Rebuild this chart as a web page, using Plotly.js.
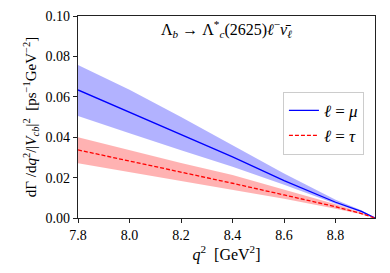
<!DOCTYPE html>
<html><head><meta charset="utf-8">
<script src="https://cdn.plot.ly/plotly-3.0.1.min.js"></script>
<style>html,body{margin:0;padding:0;background:#fff}#c{width:390px;height:273px}</style>
</head><body><div id="c"></div>
<script>
const q2 = [7.8, 8.0, 8.2, 8.4, 8.6, 8.8, 8.9, 8.953];
const muCentral = [0.0634, 0.0525, 0.0415, 0.0303, 0.0185, 0.0078, 0.0033, 0.0];
const muUpper   = [0.0757, 0.0635, 0.0500, 0.0361, 0.0220, 0.0090, 0.0038, 0.0];
const muLower   = [0.0505, 0.0420, 0.0335, 0.0254, 0.0165, 0.0070, 0.0029, 0.0];
const tauCentral = [0.0337, 0.0283, 0.0228, 0.0172, 0.0114, 0.0056, 0.0022, 0.0];
const tauUpper   = [0.0400, 0.0335, 0.0272, 0.0213, 0.0139, 0.0068, 0.0027, 0.0];
const tauLower   = [0.0271, 0.0228, 0.0185, 0.0139, 0.0095, 0.0046, 0.0018, 0.0];
const xTicks = [7.8, 8.0, 8.2, 8.4, 8.6, 8.8];
const yTicks = [0.00, 0.02, 0.04, 0.06, 0.08, 0.10];

const serif = 'Liberation Serif, DejaVu Serif, serif';
function band(up, lo, color) {
  return {
    x: q2.concat(q2.slice().reverse()),
    y: up.concat(lo.slice().reverse()),
    type: 'scatter', mode: 'lines', fill: 'toself',
    fillcolor: color, line: {width: 0}, showlegend: false, hoverinfo: 'skip'
  };
}
const data = [
  band(muUpper, muLower, 'rgba(0,0,255,0.3)'),
  band(tauUpper, tauLower, 'rgba(255,0,0,0.3)'),
  {x: q2, y: muCentral, type: 'scatter', mode: 'lines', name: '<i>ℓ</i> = <i>μ</i>',
   line: {color: '#0000ff', width: 1.3}},
  {x: q2, y: tauCentral, type: 'scatter', mode: 'lines', name: '<i>ℓ</i> = <i>τ</i>',
   line: {color: '#ff0000', width: 1.3, dash: '4px,2px'}}
];
const layout = {
  width: 390, height: 273,
  margin: {l: 78, r: 15, t: 16, b: 55},
  paper_bgcolor: '#fff', plot_bgcolor: '#fff',
  font: {family: serif, size: 14, color: '#000'},
  showlegend: true,
  legend: {x: 0.69, y: 0.625, xanchor: 'left', yanchor: 'top',
    bordercolor: '#cccccc', borderwidth: 1, bgcolor: 'rgba(255,255,255,0.8)',
    font: {family: serif, size: 17}, tracegroupgap: 0, itemwidth: 30},
  xaxis: {range: [7.8, 8.953], tickvals: xTicks, ticktext: xTicks.map(v => v.toFixed(1)),
    ticks: 'outside', ticklen: 4, tickcolor: '#222', showgrid: false, zeroline: false,
    showline: true, mirror: true, linecolor: '#222', linewidth: 1.2,
    tickfont: {family: serif, size: 14},
    title: {text: '<i>q</i><sup>2</sup>  [GeV<sup>2</sup>]', font: {family: serif, size: 16}, standoff: 5}},
  yaxis: {range: [0, 0.10], tickvals: yTicks, ticktext: yTicks.map(v => v.toFixed(2)),
    ticks: 'outside', ticklen: 4, tickcolor: '#222', showgrid: false, zeroline: false,
    showline: true, mirror: true, linecolor: '#222', linewidth: 1.2,
    tickfont: {family: serif, size: 14},
    title: {text: 'dΓ /d<i>q</i><sup>2</sup>/|<i>V<sub>cb</sub></i>|<sup>2</sup>  [ps<sup>−1</sup>GeV<sup>−2</sup>]',
      font: {family: serif, size: 15}, standoff: 5}},
  annotations: [{
    xref: 'paper', yref: 'paper', x: 0.5, y: 0.935, xanchor: 'center', yanchor: 'middle',
    showarrow: false, font: {family: serif, size: 16},
    text: 'Λ<sub><i>b</i></sub> → Λ<sup>*</sup><sub><i>c</i></sub>(2625)<i>ℓ</i><sup>−</sup><i>ν̄</i><sub><i>ℓ</i></sub>'
  }]
};
Plotly.newPlot('c', data, layout, {staticPlot: true});
</script></body></html>
